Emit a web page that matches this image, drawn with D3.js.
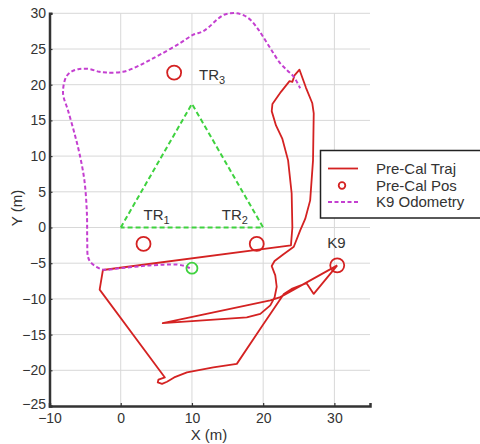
<!DOCTYPE html>
<html><head><meta charset="utf-8">
<script src="https://cdn.jsdelivr.net/npm/d3@7"></script>
<style>
html,body{margin:0;padding:0;background:#fff;}
svg{display:block;font-family:"Liberation Sans",Arial,sans-serif;}
</style></head>
<body><svg id="c" width="480" height="444"></svg>
<script>
// ---- data ----
const xTicks = [-10, 0, 10, 20, 30];
const yTicks = [-25, -20, -15, -10, -5, 0, 5, 10, 15, 20, 25, 30];
const xDomain = [-10, 35];
const yDomain = [-25, 30];

const preCalTraj = [
  [30.4,-5.3],[27.1,-9.3],[26.1,-7.8],[24.0,-8.6],[22.9,-9.3],[20.0,-13.6],[16.3,-19.1],
  [13.0,-19.6],[9.3,-20.3],[7.5,-21.0],[6.5,-21.6],[5.8,-21.9],[5.2,-21.7],[5.3,-21.3],[6.2,-21.0],
  [-2.96,-8.7],[-2.5,-5.95],[23.9,-2.5],
  [24.1,0.0],[24.0,4.8],[23.5,9.4],[22.7,12.4],[21.8,14.3],[21.2,16.3],[21.3,17.3],[22.5,19.0],
  [23.7,20.5],[24.1,20.4],[24.4,21.3],[25.1,22.1],
  [26.0,19.6],[26.9,17.4],[27.1,16.0],[27.0,9.4],[26.6,3.8],[25.9,1.2],[25.2,-0.4],[24.3,-2.7],
  [22.9,-3.7],[21.6,-4.7],[21.2,-5.4],[21.7,-6.7],[21.9,-8.3],[21.6,-9.8],[21.0,-10.9],
  [19.6,-12.1],[17.7,-12.6],[5.9,-13.4],[21.0,-10.2],[22.4,-9.75],[30.4,-5.3]
];

const k9Odometry = [
  [9.7,-5.7],[9.0,-5.4],[8.0,-5.2],[6.0,-5.2],[3.0,-5.4],[0.0,-5.7],[-2.5,-5.9],[-3.4,-5.5],
  [-4.2,-4.9],[-4.6,-4.1],[-4.7,-2.0],[-4.75,2.0],[-5.1,6.6],[-5.8,10.4],[-6.5,13.2],[-7.4,16.4],
  [-8.1,18.8],[-7.65,21.1],[-6.8,21.9],[-5.8,22.2],[-4.4,22.2],[-3.0,21.8],[-2.0,21.7],[0.3,21.8],
  [2.2,22.5],[3.8,23.3],[5.5,24.2],[8.3,25.8],[10.2,27.0],[11.4,27.4],[12.3,28.0],[13.5,29.1],
  [14.5,29.8],[15.4,30.0],[16.3,30.0],[17.3,29.7],[18.2,29.1],[19.2,27.9],[20.0,26.7],[21.2,24.8],
  [22.4,23.0],[23.4,22.0],[24.3,21.1],[25.2,19.5]
];

const triangle = [[0,0],[10,17.32],[20,0],[0,0]];
const preCalPos = [[7.5,21.7],[3.2,-2.3],[19.1,-2.3],[30.4,-5.3]];
const startPos = [10,-5.7];

const labelText = ["TR","TR","TR","K9"];
const labelSub  = ["3","1","2",""];
const labelAt   = [[11.0,20.7],[3.2,1.0],[14.2,1.1],[29.0,-2.9]];

const legendNames = ["Pre-Cal Traj","Pre-Cal Pos","K9 Odometry"];

// ---- drawing ----
const svg = d3.select("#c");
const x = d3.scaleLinear().domain(xDomain).range([49.5, 370]);
const y = d3.scaleLinear().domain(yDomain).range([406, 13.3]);
const ink = "#333";
const red = "#d42222", mag = "#c43fd0", grn = "#3fd23f";

// grid
svg.append("g").selectAll("line").data(xTicks.filter(d=>d>xDomain[0])).join("line")
  .attr("x1",d=>x(d)).attr("x2",d=>x(d)).attr("y1",y(yDomain[0])).attr("y2",y(yDomain[1]))
  .attr("stroke","#d8d8d8").attr("stroke-width",1);
svg.append("g").selectAll("line").data(yTicks.filter(d=>d>yDomain[0])).join("line")
  .attr("x1",x(xDomain[0])).attr("x2",x(xDomain[1])).attr("y1",d=>y(d)).attr("y2",d=>y(d))
  .attr("stroke","#d8d8d8").attr("stroke-width",1);

// axes
const gx = svg.append("g").attr("transform",`translate(0,${y(yDomain[0])})`)
  .call(d3.axisBottom(x).tickValues(xTicks).tickSize(-3).tickPadding(9).tickFormat(d3.format("d")));
const gy = svg.append("g").attr("transform",`translate(${x(xDomain[0])},0)`)
  .call(d3.axisLeft(y).tickValues(yTicks).tickSize(-3).tickPadding(6).tickFormat(d3.format("d")));
[gx,gy].forEach(g=>{
  g.select(".domain").attr("stroke",ink).attr("stroke-width",2.5);
  g.selectAll(".tick line").attr("stroke",ink).attr("stroke-width",1.2);
  g.selectAll(".tick text").attr("fill",ink).attr("font-size",14).attr("font-family","Liberation Sans, Arial, sans-serif");
});
gy.selectAll(".tick text").attr("x",-3.5).attr("dy",d=>d===yDomain[0]?"0.2em":"0.32em");
gx.selectAll(".tick text").attr("dy","0.55em");

svg.append("text").attr("x",209).attr("y",440).attr("text-anchor","middle")
  .attr("font-size",15).attr("fill",ink).text("X (m)");
svg.append("text").attr("transform","translate(22,208) rotate(-90)").attr("text-anchor","middle")
  .attr("font-size",15).attr("fill",ink).text("Y (m)");

const line = d3.line().x(d=>x(d[0])).y(d=>y(d[1]));
const smooth = d3.line().x(d=>x(d[0])).y(d=>y(d[1])).curve(d3.curveCatmullRom.alpha(0.5));

// triangle
svg.append("path").attr("d",line(triangle)).attr("fill","none")
  .attr("stroke",grn).attr("stroke-width",2).attr("stroke-dasharray","5,3");

// red trajectory
svg.append("path").attr("d",line(preCalTraj)).attr("fill","none")
  .attr("stroke",red).attr("stroke-width",1.8).attr("stroke-linejoin","round");

// odometry
svg.append("path").attr("d",smooth(k9Odometry)).attr("fill","none")
  .attr("stroke",mag).attr("stroke-width",2).attr("stroke-dasharray","4,2.5");

// pre-cal positions
svg.append("g").selectAll("circle").data(preCalPos).join("circle")
  .attr("cx",d=>x(d[0])).attr("cy",d=>y(d[1])).attr("r",7)
  .attr("fill","none").attr("stroke",red).attr("stroke-width",1.8);
svg.append("circle").attr("cx",x(startPos[0])).attr("cy",y(startPos[1])).attr("r",5.5)
  .attr("fill","none").attr("stroke",grn).attr("stroke-width",1.8);

// labels
labelText.forEach((t,i)=>{
  const tx = svg.append("text").attr("x",x(labelAt[i][0])).attr("y",y(labelAt[i][1]))
    .attr("font-size",15).attr("fill",ink).text(t);
  if(labelSub[i]) tx.append("tspan").attr("font-size",11).attr("dy",4).text(labelSub[i]);
});

// legend
const lg = svg.append("g");
lg.append("rect").attr("x",320.5).attr("y",150.5).attr("width",175).attr("height",67.5)
  .attr("fill","#fff").attr("stroke","#222").attr("stroke-width",1.5);
const rowY = [168.5,185.5,202];
lg.append("line").attr("x1",328).attr("x2",358).attr("y1",rowY[0]).attr("y2",rowY[0])
  .attr("stroke",red).attr("stroke-width",1.8);
lg.append("circle").attr("cx",342).attr("cy",rowY[1]).attr("r",3.3)
  .attr("fill","none").attr("stroke",red).attr("stroke-width",1.8);
lg.append("line").attr("x1",328).attr("x2",358).attr("y1",rowY[2]).attr("y2",rowY[2])
  .attr("stroke",mag).attr("stroke-width",2).attr("stroke-dasharray","4,2.5");
lg.selectAll("text").data(legendNames).join("text")
  .attr("x",376).attr("y",(d,i)=>rowY[i]+5).attr("font-size",15).attr("fill",ink).text(d=>d);
</script></body></html>
